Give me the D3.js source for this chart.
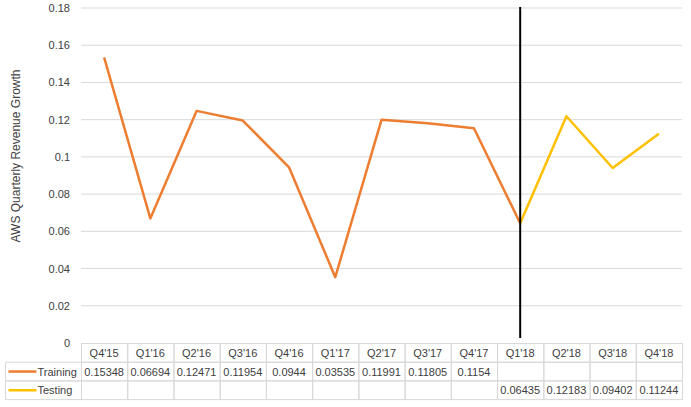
<!DOCTYPE html>
<html>
<head>
<meta charset="utf-8">
<script src="https://cdn.jsdelivr.net/npm/d3@7"></script>
<style>
  body { margin: 0; background: #fff; }
  text { font-family: "Liberation Sans", Arial, sans-serif; font-size: 11px; fill: #404040; }
</style>
</head>
<body>
<div id="chart"></div>
<script>
// quarters on the x axis
const quarters = ["Q4'15", "Q1'16", "Q2'16", "Q3'16", "Q4'16", "Q1'17", "Q2'17", "Q3'17", "Q4'17", "Q1'18", "Q2'18", "Q3'18", "Q4'18"];
// training values (Q4'15 .. Q4'17)
const training = [0.15348, 0.06694, 0.12471, 0.11954, 0.0944, 0.03535, 0.11991, 0.11805, 0.1154];
// testing values (Q1'18 .. Q4'18)
const testing = [0.06435, 0.12183, 0.09402, 0.11244];
const yTicks = [0, 0.02, 0.04, 0.06, 0.08, 0.1, 0.12, 0.14, 0.16, 0.18];
const splitQuarter = "Q1'18";

const W = 691, H = 407;
const svg = d3.select("#chart").append("svg")
    .attr("width", W)
    .attr("height", H);

const x = d3.scaleBand()
    .domain(quarters)
    .range([81, 682])
    .padding(0);

const y = d3.scaleLinear()
    .domain([0, 0.18])
    .range([343, 8]);

const cx = q => x(q) + x.bandwidth() / 2;

// gridlines
svg.append("g")
    .selectAll("line")
    .data(yTicks.filter(d => d > 0))
    .enter()
    .append("line")
    .attr("x1", x.range()[0])
    .attr("x2", x.range()[1])
    .attr("y1", d => y(d))
    .attr("y2", d => y(d))
    .attr("stroke", "#d9d9d9")
    .attr("stroke-width", 1);

// y axis labels
const yAxis = svg.append("g")
    .attr("transform", `translate(${x.range()[0]},0)`)
    .call(d3.axisLeft(y).tickValues(yTicks).tickSize(0).tickPadding(11).tickFormat(d => d3.format("")(+d.toFixed(2))));
yAxis.select(".domain").remove();
yAxis.selectAll("text")
    .style("font-family", "'Liberation Sans', Arial, sans-serif")
    .style("font-size", "11px")
    .attr("fill", "#595959");

// axis title
svg.append("text")
    .attr("transform", `translate(20,156) rotate(-90)`)
    .attr("text-anchor", "middle")
    .style("font-size", "12px")
    .style("fill", "#404040")
    .text("AWS Quarterly Revenue Growth");

// lines
const trainPts = training.map((v, i) => ({ q: quarters[i], v }));
const testPts = testing.map((v, i) => ({ q: quarters[training.length + i], v }));
const line = d3.line().x(d => cx(d.q)).y(d => y(d.v));

svg.append("path")
    .datum(trainPts.concat([testPts[0]]))
    .attr("d", line)
    .attr("fill", "none")
    .attr("stroke", "#ed7d31")
    .attr("stroke-width", 2.5)
    .attr("stroke-linejoin", "round");

svg.append("path")
    .datum(testPts)
    .attr("d", line)
    .attr("fill", "none")
    .attr("stroke", "#ffc000")
    .attr("stroke-width", 2.5)
    .attr("stroke-linejoin", "round");

// split marker
svg.append("line")
    .attr("x1", cx(splitQuarter))
    .attr("x2", cx(splitQuarter))
    .attr("y1", y(0.18) - 1)
    .attr("y2", y(0) - 5)
    .attr("stroke", "#000")
    .attr("stroke-width", 2);

// data table
const rowH = 18.7;
const tTop = 343.5;
const tLeft = 5.5;
const table = svg.append("g");
const border = "#d9d9d9";

// header cells
quarters.forEach(q => {
    table.append("rect")
        .attr("x", x(q) + 0.5).attr("y", tTop)
        .attr("width", x.bandwidth()).attr("height", rowH)
        .attr("fill", "none").attr("stroke", border);
    table.append("text")
        .attr("x", cx(q)).attr("y", tTop + rowH / 2 + 4)
        .attr("text-anchor", "middle")
        .text(q);
});

const series = [
    { name: "Training", color: "#ed7d31", values: training, offset: 0 },
    { name: "Testing", color: "#ffc000", values: testing, offset: training.length }
];

series.forEach((s, r) => {
    const top = tTop + rowH * (r + 1);
    table.append("rect")
        .attr("x", tLeft).attr("y", top)
        .attr("width", x.range()[0] + 0.5 - tLeft).attr("height", rowH)
        .attr("fill", "none").attr("stroke", border);
    table.append("line")
        .attr("x1", tLeft + 3).attr("x2", tLeft + 31)
        .attr("y1", top + rowH / 2).attr("y2", top + rowH / 2)
        .attr("stroke", s.color).attr("stroke-width", 2.5);
    table.append("text")
        .attr("x", tLeft + 32).attr("y", top + rowH / 2 + 4)
        .text(s.name);
    quarters.forEach((q, i) => {
        table.append("rect")
            .attr("x", x(q) + 0.5).attr("y", top)
            .attr("width", x.bandwidth()).attr("height", rowH)
            .attr("fill", "none").attr("stroke", border);
        const v = s.values[i - s.offset];
        if (v !== undefined) {
            table.append("text")
                .attr("x", cx(q)).attr("y", top + rowH / 2 + 4)
                .attr("text-anchor", "middle")
                .text(v);
        }
    });
});
</script>
</body>
</html>
